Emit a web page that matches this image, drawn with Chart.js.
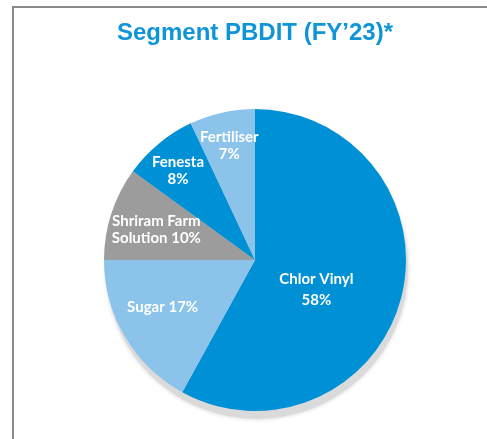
<!DOCTYPE html>
<html>
<head>
<meta charset="utf-8">
<script src="https://cdn.jsdelivr.net/npm/chart.js@4"></script>
<style>
  html, body { margin: 0; padding: 0; background: #fff; }
  #wrap { position: relative; width: 487px; height: 439px; overflow: hidden; }
  #frame { position: absolute; left: 12px; top: 6px; width: 500px; height: 460px;
           border-left: 2px solid #8a8a8a; border-top: 2px solid #8a8a8a; }
  canvas { position: absolute; left: 0; top: 0; }
</style>
</head>
<body>
<div id="wrap">
  <div id="frame"></div>
  <canvas id="c" width="487" height="439"></canvas>
</div>
<script>
const categories = ["Chlor Vinyl", "Sugar", "Shriram Farm Solution", "Fenesta", "Fertiliser"];
const shares = [58, 17, 10, 8, 7];
const labelLines = [["Chlor Vinyl", "58%"], ["Sugar 17%"], ["Shriram Farm", "Solution 10%"], ["Fenesta", "8%"], ["Fertiliser", "7%"]];
const colors = ["#0090D6", "#8BC3EA", "#9C9C9C", "#0090D6", "#8BC3EA"];

// label placement: fraction of radius along mid-angle, plus pixel nudge
const labelPlace = [
  { f: 0.44, dx: -3, dy: 13 },
  { f: 0.68, dx: -4, dy: -5 },
  { f: 0.68, dx: -1, dy: 1 },
  { f: 0.80, dx: 0, dy: 4 },
  { f: 0.78, dx: 0, dy: 1 }
];

const shadowPlugin = {
  id: 'pieShadow',
  beforeDatasetsDraw(chart) {
    const arc = chart.getDatasetMeta(0).data[0];
    if (!arc) return;
    const ctx = chart.ctx;
    ctx.save();
    ctx.shadowColor = 'rgba(0,0,0,0.18)';
    ctx.shadowBlur = 4;
    ctx.beginPath();
    ctx.arc(arc.x + 2, arc.y + 8, arc.outerRadius, 0, Math.PI * 2);
    ctx.fillStyle = '#dadada';
    ctx.fill();
    ctx.restore();
  }
};

const labelPlugin = {
  id: 'sliceLabels',
  afterDatasetsDraw(chart) {
    const ctx = chart.ctx;
    const meta = chart.getDatasetMeta(0);
    ctx.save();
    ctx.fillStyle = '#ffffff';
    ctx.font = 'bold 15px Lato, "Open Sans", sans-serif';
    ctx.textAlign = 'center';
    ctx.textBaseline = 'middle';
    meta.data.forEach((arc, i) => {
      const mid = (arc.startAngle + arc.endAngle) / 2;
      const p = labelPlace[i];
      const r = arc.outerRadius * p.f;
      const x = arc.x + Math.cos(mid) * r + p.dx;
      const y = arc.y + Math.sin(mid) * r + p.dy;
      const lines = labelLines[i];
      const lh = i === 0 ? 21 : 17;
      lines.forEach((t, k) => {
        ctx.fillText(t, x, y + (k - (lines.length - 1) / 2) * lh);
      });
    });
    ctx.restore();
  }
};

new Chart(document.getElementById('c'), {
  type: 'pie',
  data: {
    labels: categories,
    datasets: [{
      data: shares,
      backgroundColor: colors,
      borderWidth: 0,
      hoverOffset: 0
    }]
  },
  options: {
    responsive: false,
    animation: false,
    layout: { padding: { left: 46, right: 23, top: 0, bottom: 28 } },
    plugins: {
      legend: { display: false },
      tooltip: { enabled: false },
      title: {
        display: true,
        text: 'Segment PBDIT (FY\u201923)*',
        color: '#0E95D8',
        font: { family: '"Liberation Sans", Arial, sans-serif', size: 24, weight: 'bold' },
        padding: { top: 19, bottom: 61.2 }
      }
    }
  },
  plugins: [shadowPlugin, labelPlugin]
});
</script>
</body>
</html>
